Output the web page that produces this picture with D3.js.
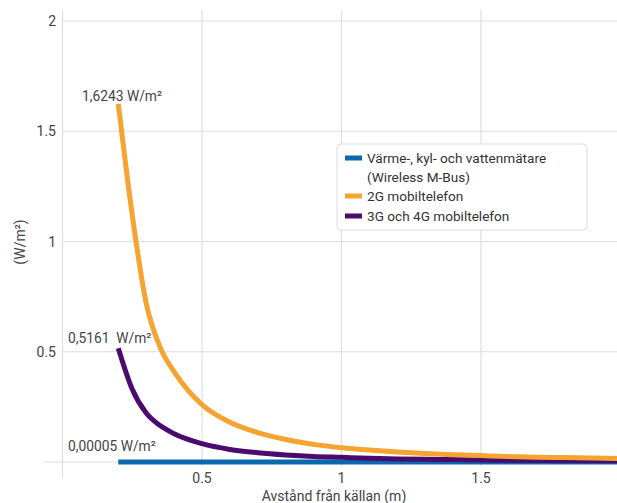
<!DOCTYPE html>
<html>
<head>
<meta charset="utf-8">
<script src="https://cdn.jsdelivr.net/npm/d3@7"></script>
<style>
  body { margin: 0; background: #fff; }
  svg { display: block; font-family: Roboto, "Noto Sans", sans-serif; }
  text { fill: #444; white-space: pre; }
</style>
</head>
<body>
<svg id="chart" width="617" height="503"></svg>
<script>
// distance from the source (m)
const distances = [0.2, 0.25, 0.3, 0.35, 0.4, 0.5, 0.6, 0.7, 0.8, 0.9, 1.0, 1.1, 1.2, 1.3, 1.4, 1.5, 1.6, 1.7, 1.8, 1.9, 2.0];

// power density (W/m²)
const meterValues = [0.00005, 0.00005, 0.00005, 0.00005, 0.00005, 0.00005, 0.00005, 0.00005, 0.00005, 0.00005,
	0.00005, 0.00005, 0.00005, 0.00005, 0.00005, 0.00005, 0.00005, 0.00005, 0.00005, 0.00005, 0.00005];
const gsmValues = [1.6243, 1.12, 0.72, 0.52, 0.41, 0.26, 0.18, 0.133, 0.102, 0.080, 0.065, 0.054,
	0.045, 0.038, 0.033, 0.029, 0.025, 0.022, 0.020, 0.018, 0.016];
const umtsValues = [0.5161, 0.33, 0.222, 0.165, 0.128, 0.083, 0.057, 0.042, 0.032, 0.025, 0.021, 0.017,
	0.014, 0.012, 0.011, 0.009, 0.008, 0.007, 0.006, 0.006, 0.005];

const seriesNames = ["Värme-, kyl- och vattenmätare\n(Wireless M-Bus)", "2G mobiltelefon", "3G och 4G mobiltelefon"];
const seriesColors = ["#0a69ad", "#f5a331", "#4b0a6e"];
const startLabels = ["0,00005 W/m²", "1,6243 W/m²", "0,5161  W/m²"];

const xTicks = [0.5, 1, 1.5];
const yTicks = [0, 0.5, 1, 1.5, 2];

const svg = d3.select("#chart");

const x = d3.scaleLinear().domain([0, 2]).range([62.5, 620.5]);
const y = d3.scaleLinear().domain([0, 2]).range([462, 21]);

svg.append("defs").append("clipPath").attr("id", "plot")
	.append("rect").attr("x", 62).attr("y", 0).attr("width", 555).attr("height", 480);

// grid
const grid = svg.append("g").attr("stroke", "#dedede").attr("stroke-width", 1.2);
grid.selectAll("line.h").data(yTicks).join("line")
	.attr("class", "h")
	.attr("x1", d => d === 0 ? 44 : x(0)).attr("x2", 617)
	.attr("y1", d => y(d)).attr("y2", d => y(d));
grid.selectAll("line.v").data([0].concat(xTicks)).join("line")
	.attr("class", "v")
	.attr("x1", d => x(d)).attr("x2", d => x(d))
	.attr("y1", 10).attr("y2", d => d === 0 ? 478 : 466);

// tick labels
svg.append("g").selectAll("text").data(yTicks.filter(d => d > 0)).join("text")
	.attr("x", 56).attr("y", d => y(d)).attr("dy", "0.36em")
	.attr("text-anchor", "end").attr("font-size", 14)
	.text(d => d);
svg.append("g").selectAll("text").data(xTicks).join("text")
	.attr("x", d => x(d)).attr("y", 478).attr("dy", "0.36em")
	.attr("text-anchor", "middle").attr("font-size", 14)
	.text(d => d);

// axis titles
svg.append("text").attr("x", 334).attr("y", 501)
	.attr("text-anchor", "middle").attr("font-size", 14)
	.text("Avstånd från källan (m)");
svg.append("text").attr("transform", "translate(25,242) rotate(-90)")
	.attr("text-anchor", "middle").attr("font-size", 14)
	.text("(W/m²)");

// lines
const series = [meterValues, gsmValues, umtsValues];
const line = d3.line()
	.x((d, i) => x(distances[i]))
	.y(d => y(d))
	.curve(d3.curveMonotoneX);

const lines = svg.append("g").attr("clip-path", "url(#plot)");
[0, 2, 1].forEach(k => {
	lines.append("path")
		.datum(series[k])
		.attr("fill", "none")
		.attr("stroke", seriesColors[k])
		.attr("stroke-width", 5)
		.attr("d", line);
});

// value labels at the start of each curve
const labelPos = [[68, 451], [82, 101], [68, 343]];
series.forEach((s, k) => {
	svg.append("text")
		.attr("x", labelPos[k][0]).attr("y", labelPos[k][1])
		.attr("font-size", 13.8)
		.text(startLabels[k]);
});

// legend
const legend = svg.append("g").attr("transform", "translate(337,144)");
legend.append("rect")
	.attr("width", 250).attr("height", 86).attr("rx", 4)
	.attr("fill", "#fff").attr("stroke", "#ddd");
const rows = [[0, seriesNames[0].split("\n")[0], 14], [null, seriesNames[0].split("\n")[1], 33],
	[1, seriesNames[1], 52], [2, seriesNames[2], 72]];
rows.forEach(r => {
	if (r[0] !== null) {
		legend.append("rect")
			.attr("x", 8).attr("y", r[2] - 2.5).attr("width", 17).attr("height", 5)
			.attr("fill", seriesColors[r[0]]);
	}
	legend.append("text")
		.attr("x", 30).attr("y", r[2]).attr("dy", "0.36em")
		.attr("font-size", 13.6).style("fill", "#333")
		.text(r[1]);
});
</script>
</body>
</html>
